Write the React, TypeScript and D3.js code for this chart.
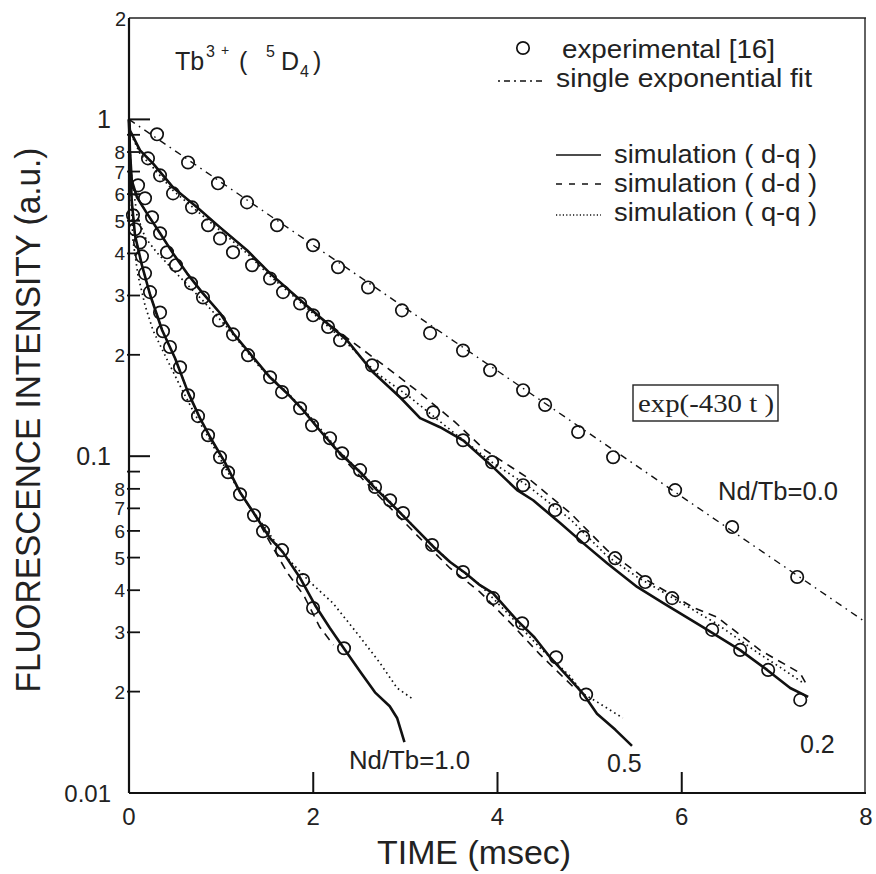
import React from "react";
import * as d3 from "d3";

// ---------- data (time in msec, intensity in a.u.) ----------
const fit00: [number, number][] = [[0, 1], [8, 0.0321]];

const exp00: [number, number][] = [
  [0.304, 0.903], [0.641, 0.745], [0.966, 0.646], [1.281, 0.567], [1.607, 0.485], [1.998, 0.423],
  [2.269, 0.364], [2.595, 0.317], [2.963, 0.271], [3.268, 0.232], [3.626, 0.206], [3.92, 0.18],
  [4.278, 0.157], [4.517, 0.142], [4.875, 0.118], [5.255, 0.0993], [5.928, 0.0793], [6.547, 0.0616],
  [7.253, 0.0438],
];

const exp02: [number, number][] = [
  [0.206, 0.766], [0.337, 0.682], [0.478, 0.603], [0.684, 0.548], [0.858, 0.485], [0.988, 0.443],
  [1.129, 0.403], [1.336, 0.369], [1.531, 0.337], [1.672, 0.307], [1.857, 0.284], [1.998, 0.262],
  [2.161, 0.242], [2.291, 0.221], [2.638, 0.186], [2.975, 0.155], [3.301, 0.135], [3.626, 0.1115],
  [3.941, 0.096], [4.278, 0.082], [4.625, 0.0692], [4.929, 0.0575], [5.277, 0.0498], [5.603, 0.0423],
  [5.896, 0.0379], [6.33, 0.0305], [6.634, 0.0266], [6.938, 0.0232], [7.286, 0.0189],
];

const exp05: [number, number][] = [
  [0.098, 0.637], [0.174, 0.583], [0.25, 0.512], [0.337, 0.459], [0.413, 0.403], [0.51, 0.369],
  [0.673, 0.326], [0.803, 0.296], [0.977, 0.253], [1.129, 0.23], [1.292, 0.1995], [1.531, 0.1715],
  [1.661, 0.155], [1.857, 0.1388], [1.987, 0.1236], [2.182, 0.1131], [2.313, 0.102], [2.508, 0.0909],
  [2.671, 0.081], [2.834, 0.074], [2.975, 0.0678], [3.29, 0.0545], [3.626, 0.0453], [3.952, 0.0379],
  [4.267, 0.0319], [4.636, 0.0253], [4.962, 0.0196],
];

const exp10: [number, number][] = [
  [0.043, 0.519], [0.065, 0.472], [0.119, 0.431], [0.141, 0.392], [0.174, 0.349], [0.228, 0.307],
  [0.337, 0.267], [0.369, 0.235], [0.445, 0.211], [0.554, 0.1836], [0.641, 0.1517], [0.749, 0.1315],
  [0.858, 0.1154], [0.988, 0.0993], [1.075, 0.0896], [1.205, 0.0771], [1.357, 0.0668], [1.455, 0.0599],
  [1.661, 0.0526], [1.889, 0.0429], [1.998, 0.0354], [2.334, 0.0269],
];

// simulation d-q (solid)
const dq02: [number, number][] = [
  [0, 1], [0.01, 0.928], [0.12, 0.809], [0.26, 0.74], [0.478, 0.628], [0.738, 0.548], [0.988, 0.478],
  [1.281, 0.4087], [1.531, 0.349], [1.824, 0.2965], [2.074, 0.2586], [2.367, 0.2208], [2.649, 0.1775],
  [2.942, 0.1496], [3.16, 0.1297], [3.377, 0.1219], [3.626, 0.1115], [3.952, 0.0928], [4.213, 0.0793],
  [4.387, 0.074], [4.68, 0.0633], [4.93, 0.0552], [5.19, 0.0481], [5.516, 0.0409], [5.8, 0.0366],
  [6.23, 0.0311], [6.634, 0.02656], [6.927, 0.0232], [7.177, 0.0205], [7.372, 0.0193],
];
const dq05: [number, number][] = [
  [0, 1], [0.01, 0.809], [0.03, 0.659], [0.087, 0.587], [0.195, 0.526], [0.337, 0.459], [0.478, 0.4],
  [0.63, 0.349], [0.8, 0.305], [0.99, 0.2657], [1.13, 0.2317], [1.31, 0.2022], [1.53, 0.1715],
  [1.715, 0.1538], [1.89, 0.137], [2.07, 0.1194], [2.29, 0.102], [2.51, 0.0896], [2.67, 0.0804],
  [2.83, 0.073], [3.0, 0.0655], [3.16, 0.0591], [3.32, 0.0533], [3.485, 0.0485], [3.65, 0.045],
  [3.81, 0.0414], [3.95, 0.0392], [4.21, 0.0326], [4.4, 0.029], [4.57, 0.0253], [4.76, 0.0222],
  [4.93, 0.0197], [5.08, 0.0172], [5.28, 0.0154], [5.46, 0.0138],
];
const dq10: [number, number][] = [
  [0, 1], [0.01, 0.756], [0.03, 0.571], [0.065, 0.453], [0.14, 0.369], [0.23, 0.301], [0.36, 0.2365],
  [0.5, 0.1954], [0.64, 0.155], [0.77, 0.1297], [0.9, 0.1115], [1.04, 0.096], [1.205, 0.0782],
  [1.37, 0.0668], [1.53, 0.0571], [1.67, 0.0519], [1.86, 0.0434], [2.02, 0.0361], [2.18, 0.0309],
  [2.345, 0.0266], [2.51, 0.0229], [2.67, 0.0199], [2.83, 0.0181], [2.91, 0.0167], [2.99, 0.01416],
];

// simulation d-d (dashed)
const dd02: [number, number][] = [
  [0, 1], [0.01, 0.928], [0.12, 0.809], [0.26, 0.74], [0.478, 0.628], [0.738, 0.548], [0.988, 0.478],
  [1.281, 0.4087], [1.531, 0.349], [1.824, 0.2965], [2.074, 0.2586], [2.4, 0.2208], [2.81, 0.1824],
  [3.16, 0.1538], [3.54, 0.1262], [3.865, 0.1042], [4.32, 0.0866], [4.79, 0.0678], [5.19, 0.0526],
  [5.62, 0.0429], [6.12, 0.0356], [6.38, 0.0333], [6.85, 0.02656], [7.285, 0.0227], [7.372, 0.0206],
];
const dd05: [number, number][] = [
  [0, 1], [0.01, 0.809], [0.03, 0.659], [0.087, 0.587], [0.195, 0.526], [0.337, 0.459], [0.478, 0.4],
  [0.63, 0.349], [0.8, 0.305], [0.99, 0.2657], [1.13, 0.2317], [1.31, 0.2022], [1.53, 0.1715],
  [1.715, 0.1538], [1.89, 0.137], [2.07, 0.1194], [2.29, 0.101], [2.51, 0.087], [2.83, 0.0705],
  [3.16, 0.057], [3.485, 0.0465], [3.81, 0.0395], [4.14, 0.032], [4.46, 0.0258], [4.85, 0.0203],
];
const dd10: [number, number][] = [
  [0, 1], [0.01, 0.756], [0.03, 0.571], [0.065, 0.453], [0.14, 0.369], [0.23, 0.301], [0.36, 0.2365],
  [0.5, 0.1954], [0.64, 0.155], [0.77, 0.1297], [0.9, 0.1115], [1.04, 0.096], [1.205, 0.0782],
  [1.37, 0.0665], [1.53, 0.0555], [1.72, 0.045], [1.9, 0.0385], [2.07, 0.0311], [2.22, 0.0275],
];

// simulation q-q (dotted)
const qq02: [number, number][] = [
  [0, 1], [0.01, 0.92], [0.12, 0.79], [0.26, 0.72], [0.478, 0.615], [0.738, 0.535], [0.988, 0.468],
  [1.281, 0.4], [1.531, 0.343], [1.824, 0.292], [2.074, 0.255], [2.4, 0.212], [2.69, 0.1763],
  [3.05, 0.1496], [3.56, 0.1154], [3.95, 0.0955], [4.32, 0.082], [4.79, 0.065], [5.19, 0.0505],
  [5.516, 0.0438], [5.9, 0.038], [6.38, 0.0318], [6.85, 0.0258], [7.07, 0.0236], [7.32, 0.0212],
];
const qq05: [number, number][] = [
  [0, 1], [0.02, 0.706], [0.087, 0.519], [0.174, 0.447], [0.3, 0.403], [0.554, 0.34], [0.8, 0.29],
  [1.064, 0.2415], [1.42, 0.1837], [1.715, 0.155], [2.0, 0.128], [2.29, 0.1028], [2.5, 0.0905],
  [2.83, 0.0735], [3.16, 0.059], [3.485, 0.0485], [3.81, 0.0415], [4.14, 0.0335], [4.46, 0.027],
  [4.79, 0.0222], [4.93, 0.0197], [5.1, 0.0185], [5.36, 0.0167],
];
const qq10: [number, number][] = [
  [0, 1], [0.01, 0.706], [0.043, 0.4375], [0.098, 0.344], [0.174, 0.2805], [0.26, 0.2365], [0.39, 0.1995],
  [0.55, 0.1625], [0.72, 0.1324], [0.88, 0.1115], [1.04, 0.0928], [1.26, 0.074], [1.48, 0.0611],
  [1.69, 0.0508], [1.965, 0.0423], [2.215, 0.0366], [2.51, 0.029], [2.725, 0.0243], [2.91, 0.0205],
  [3.07, 0.0191],
];

const xTicks = [0, 2, 4, 6, 8];
const yMajor = [1, 0.1];
const yMajorLabels = ["1", "0.1"];
const yMinor = [0.9, 0.8, 0.7, 0.6, 0.5, 0.4, 0.3, 0.2, 0.09, 0.08, 0.07, 0.06, 0.05, 0.04, 0.03, 0.02];
const yMinorLabeled = [0.8, 0.7, 0.6, 0.5, 0.4, 0.3, 0.2, 0.08, 0.07, 0.06, 0.05, 0.04, 0.03, 0.02];
const yMinorLabels = ["8", "7", "6", "5", "4", "3", "2", "8", "7", "6", "5", "4", "3", "2"];

const W = 876;
const H = 874;
const L = 129, R = 866, T = 18, B = 793;

const FONT = "'Liberation Sans', Arial, Helvetica, sans-serif";

export default function App() {
  const x = d3.scaleLinear().domain([0, 8]).range([L, R]);
  const y = d3.scaleLog().domain([0.01, 2]).range([B, T]);
  const line = d3.line<[number, number]>().x((d) => x(d[0])).y((d) => y(d[1]));

  const solid = { stroke: "#111", strokeWidth: 2.6, fill: "none", strokeLinejoin: "round" as const };
  const dashed = { stroke: "#111", strokeWidth: 1.6, fill: "none", strokeDasharray: "8,6" };
  const dotted = { stroke: "#111", strokeWidth: 1.7, fill: "none", strokeDasharray: "1.6,3.4" };
  const dashdot = { stroke: "#111", strokeWidth: 1.4, fill: "none", strokeDasharray: "7,5,1.6,5" };

  const circles = (data: [number, number][], key: string) =>
    data.map((d, i) => (
      <circle key={key + i} cx={x(d[0])} cy={y(d[1])} r={6.2} fill="none" stroke="#111" strokeWidth={1.7} />
    ));

  return (
    <svg width={W} height={H} style={{ position: "absolute", left: 0, top: 0, background: "#fff" }} fontFamily={FONT}>
      <rect x={0} y={0} width={W} height={H} fill="#fff" />
      {/* frame */}
      <line x1={L} x2={R} y1={T} y2={T} stroke="#222" strokeWidth={1.4} />
      <line x1={R - 1} x2={R - 1} y1={T} y2={B} stroke="#222" strokeWidth={1.4} />
      <line x1={L} x2={L} y1={T} y2={B} stroke="#111" strokeWidth={2.2} />
      <line x1={L} x2={R} y1={B} y2={B} stroke="#111" strokeWidth={2.2} />

      {/* x ticks */}
      {xTicks.map((t) => (
        <g key={"xt" + t}>
          {t > 0 && t < 8 && <line x1={x(t)} x2={x(t)} y1={B} y2={B - 21} stroke="#111" strokeWidth={2} />}
          <text x={x(t)} y={825} fontSize={24} textAnchor="middle" fill="#222">{t}</text>
        </g>
      ))}

      {/* y ticks */}
      {yMajor.map((v, i) => (
        <g key={"ym" + v}>
          <line x1={L} x2={L + 21} y1={y(v)} y2={y(v)} stroke="#111" strokeWidth={2} />
          <text x={111} y={y(v) + 9} fontSize={25} textAnchor="end" fill="#222">{yMajorLabels[i]}</text>
        </g>
      ))}
      {yMinor.map((v) => (
        <line key={"yn" + v} x1={L - 2} x2={L + 11} y1={y(v)} y2={y(v)} stroke="#111" strokeWidth={1.8} />
      ))}
      {yMinorLabeled.map((v, i) => (
        <text key={"yl" + i} x={125} y={y(v) + 7} fontSize={19} textAnchor="end" fill="#222">{yMinorLabels[i]}</text>
      ))}
      <text x={126} y={y(2) + 8} fontSize={20} textAnchor="end" fill="#222">2</text>
      <text x={111} y={y(0.01) + 9} fontSize={24} textAnchor="end" fill="#222">0.01</text>

      {/* axis titles */}
      <text x={474} y={864} fontSize={34} textAnchor="middle" fill="#222" textLength={194} lengthAdjust="spacingAndGlyphs">TIME  (msec)</text>
      <text transform={`translate(40,${420}) rotate(-90)`} fontSize={35} textAnchor="middle" fill="#222" textLength={545} lengthAdjust="spacingAndGlyphs">FLUORESCENCE  INTENSITY  (a.u.)</text>

      {/* curves */}
      <path d={line(fit00) || ""} {...dashdot} />
      <path d={line(qq02) || ""} {...dotted} />
      <path d={line(qq05) || ""} {...dotted} />
      <path d={line(qq10) || ""} {...dotted} />
      <path d={line(dd02) || ""} {...dashed} />
      <path d={line(dd05) || ""} {...dashed} />
      <path d={line(dd10) || ""} {...dashed} />
      <path d={line(dq02) || ""} {...solid} />
      <path d={line(dq05) || ""} {...solid} />
      <path d={line(dq10) || ""} {...solid} />
      {circles(exp00, "a")}
      {circles(exp02, "b")}
      {circles(exp05, "c")}
      {circles(exp10, "d")}

      {/* ion label Tb3+ (5D4) */}
      <g fill="#222">
        <text x={175} y={70} fontSize={25}>Tb</text>
        <text x={206} y={57} fontSize={16}>3</text>
        <text x={221} y={55} fontSize={14}>+</text>
        <text x={239} y={70} fontSize={25}>(</text>
        <text x={266} y={57} fontSize={16}>5</text>
        <text x={281} y={70} fontSize={25}>D</text>
        <text x={300} y={77} fontSize={16}>4</text>
        <text x={313} y={70} fontSize={25}>)</text>
      </g>

      {/* legend */}
      <circle cx={523} cy={48} r={6.2} fill="none" stroke="#111" strokeWidth={1.7} />
      <text x={562} y={58} fontSize={26} fill="#222" textLength={213} lengthAdjust="spacingAndGlyphs">experimental [16]</text>
      <line x1={498} x2={545} y1={81} y2={81} {...dashdot} strokeDasharray="2,4,6,4" />
      <text x={556} y={87} fontSize={26} fill="#222" textLength={256} lengthAdjust="spacingAndGlyphs">single  exponential fit</text>

      <line x1={556} x2={601} y1={155} y2={155} stroke="#111" strokeWidth={1.4} />
      <text x={614} y={163} fontSize={26} fill="#222" textLength={203} lengthAdjust="spacingAndGlyphs">simulation ( d-q )</text>
      <line x1={556} x2={601} y1={184} y2={184} stroke="#111" strokeWidth={1.4} strokeDasharray="6,7" />
      <text x={614} y={192} fontSize={26} fill="#222" textLength={203} lengthAdjust="spacingAndGlyphs">simulation ( d-d )</text>
      <line x1={556} x2={601} y1={215} y2={215} stroke="#111" strokeWidth={1.3} strokeDasharray="1.2,2.2" />
      <text x={614} y={221} fontSize={26} fill="#222" textLength={203} lengthAdjust="spacingAndGlyphs">simulation ( q-q )</text>

      {/* exp box */}
      <rect x={633} y={385} width={145} height={36} fill="none" stroke="#222" strokeWidth={1.4} />
      <text x={638} y={412} fontSize={26} fontFamily="'Liberation Serif', 'Times New Roman', serif" fill="#222" textLength={136} lengthAdjust="spacingAndGlyphs">exp(-430 t )</text>

      {/* series labels */}
      <text x={718} y={500} fontSize={25} fill="#222" textLength={120} lengthAdjust="spacingAndGlyphs">Nd/Tb=0.0</text>
      <text x={349} y={769} fontSize={25} fill="#222" textLength={121} lengthAdjust="spacingAndGlyphs">Nd/Tb=1.0</text>
      <text x={607} y={772} fontSize={25} fill="#222">0.5</text>
      <text x={800} y={753} fontSize={25} fill="#222">0.2</text>
    </svg>
  );
}
